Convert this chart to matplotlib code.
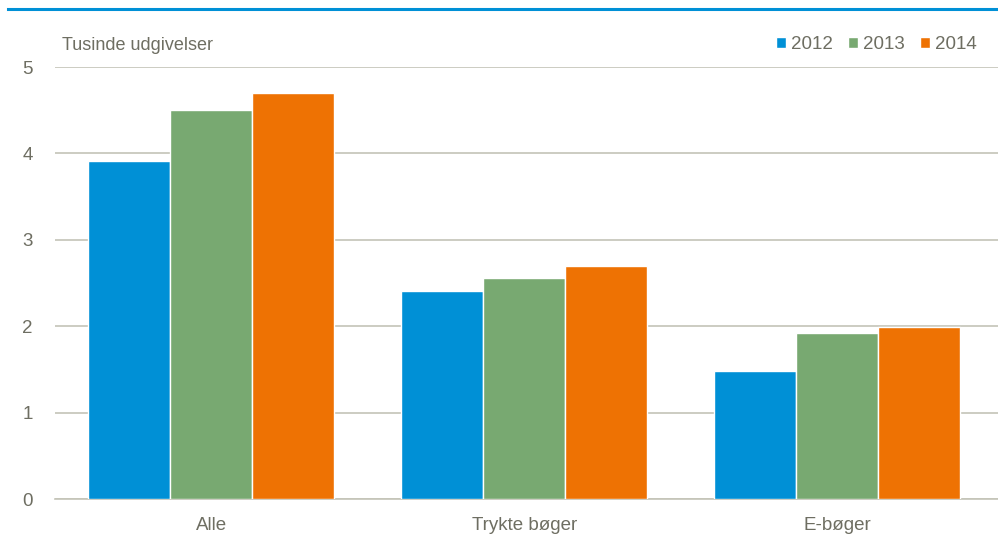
import matplotlib.pyplot as plt
import numpy as np
from matplotlib import font_manager

names = [f.name for f in font_manager.fontManager.ttflist]
if "Liberation Sans Narrow" in names:
    plt.rcParams['font.family'] = ['Liberation Sans Narrow', 'DejaVu Sans']
else:
    plt.rcParams['font.family'] = ['Liberation Sans', 'DejaVu Sans']

categories = ["Alle", "Trykte bøger", "E-bøger"]
years = ["2012", "2013", "2014"]
v2012 = [3.91, 2.41, 1.48]
v2013 = [4.50, 2.56, 1.92]
v2014 = [4.70, 2.70, 1.99]
colors = ["#0090d6", "#78a971", "#ee7203"]
txt = "#6e6e62"
grid = "#c4c4b8"

fig = plt.figure(figsize=(9.98, 5.38), dpi=100)
ax = fig.add_axes([55/998, 1-499/538, 943/998, 432/538])

x = np.arange(len(categories))
w = 0.262
for i, (vals, c, yr) in enumerate(zip([v2012, v2013, v2014], colors, years)):
    ax.bar(x + (i-1)*w, vals, w, color=c, edgecolor="white", linewidth=1, label=yr, zorder=3)

ax.set_xlim(-0.5, 2.515)
ax.set_ylim(0, 5)
ax.set_yticks([0, 1, 2, 3, 4, 5])
ax.set_xticks(x)
ax.set_xticklabels(categories)
ax.yaxis.grid(True, color=grid, linewidth=1.2, zorder=0)
for s in ["left", "right", "top"]:
    ax.spines[s].set_visible(False)
ax.spines["bottom"].set_color(grid)
ax.spines["bottom"].set_linewidth(1.2)
ax.tick_params(axis="both", length=0, labelsize=13.5, colors=txt)
ax.tick_params(axis="y", pad=16)
ax.tick_params(axis="x", pad=13)

fig.text(62/998, 1-45/538, "Tusinde udgivelser", fontsize=13, color=txt, va="center", ha="left")

leg = ax.legend(loc="upper right", bbox_to_anchor=(0.995, 1.11), ncol=3, frameon=False,
                fontsize=13.5, handlelength=0.55, handleheight=0.55, handletextpad=0.25,
                columnspacing=0.8, labelcolor=txt)

# blue rule at the top
fig.add_artist(plt.Line2D([8/998, 1], [1-9/538, 1-9/538], color="#0090d6", linewidth=2.2))

fig.savefig("out.png", dpi=100)
